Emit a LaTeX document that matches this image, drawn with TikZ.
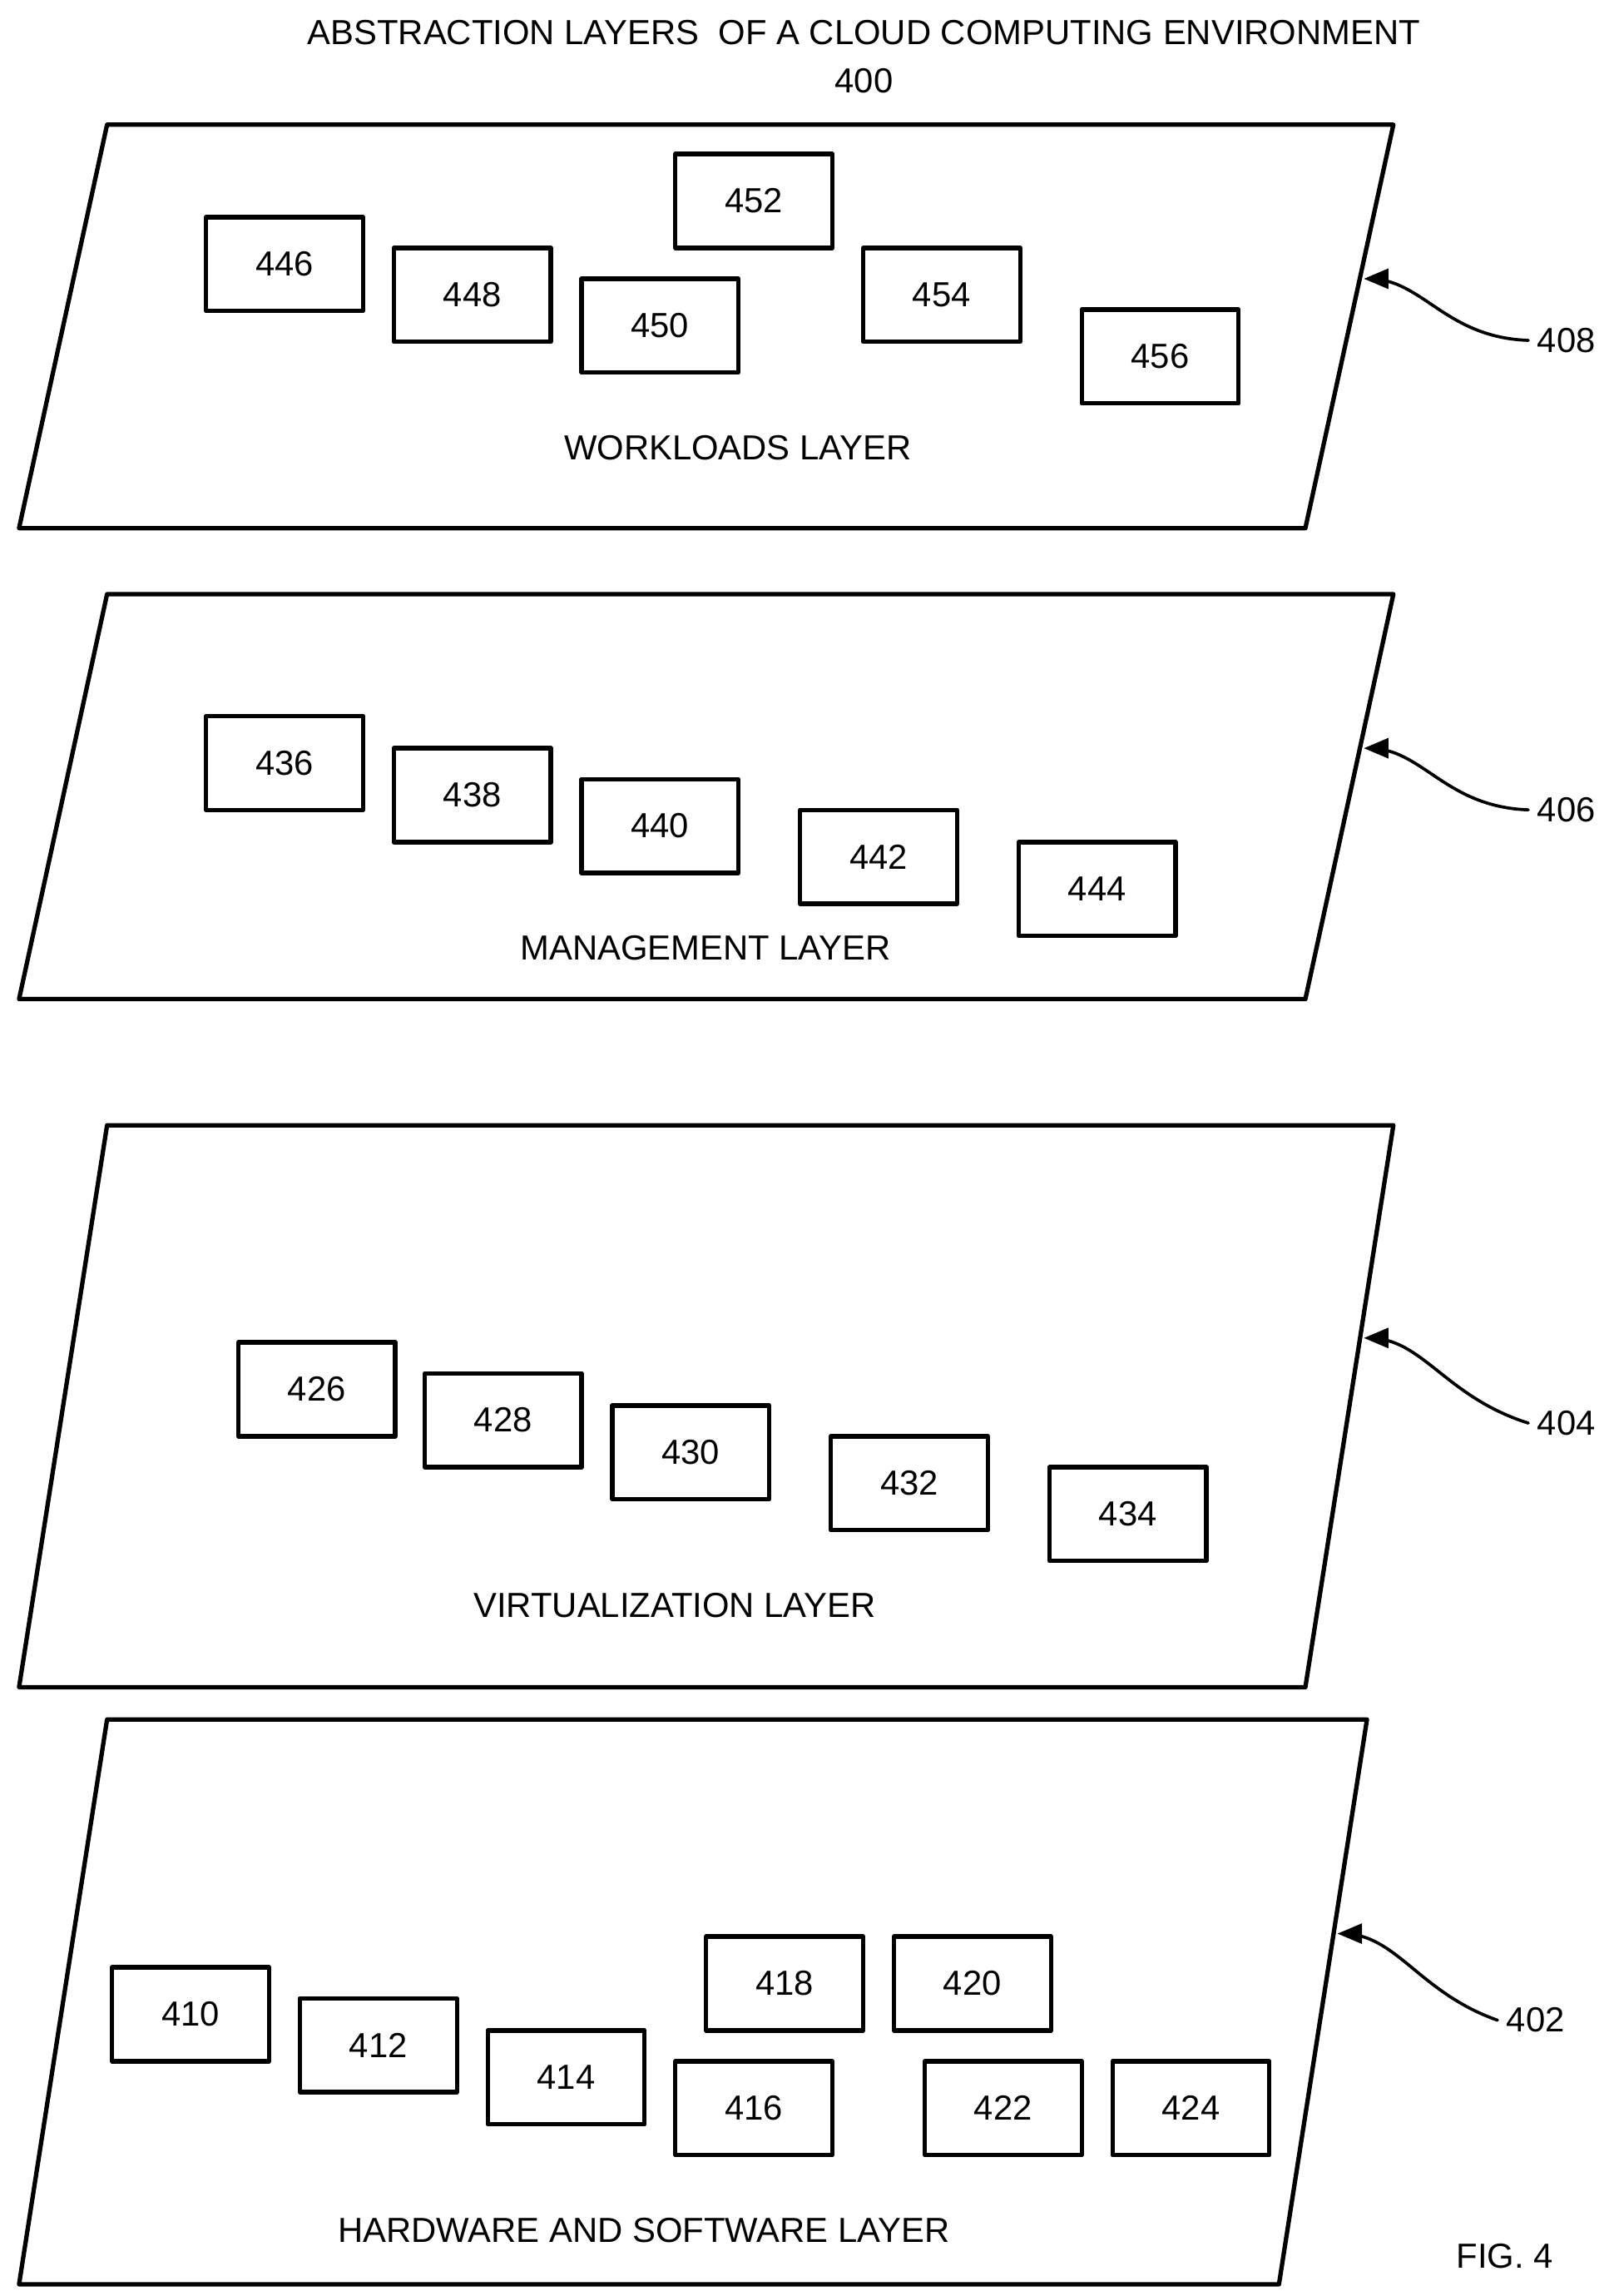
\documentclass[tikz,border=0pt]{standalone}
\usepackage{fontspec}
\setmainfont{Liberation Sans}
\usetikzlibrary{calc}
\usetikzlibrary{arrows}
\begin{document}
\begin{tikzpicture}[line cap=round,line join=round,>=triangle 45,x=0.02cm,y=-0.02cm,
  every node/.style={font=\fontsize{13.5}{16}\selectfont},
  layer/.style={line width=1.7pt},
  unit/.style={draw,line width=1.7pt,minimum width=107*0.02cm,minimum height=64*0.02cm,inner sep=0pt},
  lead/.style={->,line width=1.2pt}]
\useasboundingbox (0,0) rectangle (1100,1565);
\node (title) at (589,22) {ABSTRACTION LAYERS\ \ OF A CLOUD COMPUTING ENVIRONMENT};
\node (t400) at (589,55) {400};
% layers
\draw [layer] (73,85) -- (950,85) -- (890,360) -- (13,360) -- cycle;
\draw [layer] (73,405) -- (950,405) -- (890,681) -- (13,681) -- cycle;
\draw [layer] (73,767) -- (950,767) -- (890,1150) -- (13,1150) -- cycle;
\draw [layer] (73,1172) -- (932,1172) -- (872,1557) -- (13,1557) -- cycle;
\node (wl) at (503,305) {WORKLOADS LAYER};
\node (ml) at (481,646) {MANAGEMENT LAYER};
\node (vl) at (460,1094) {VIRTUALIZATION LAYER};
\node (hl) at (439,1520) {HARDWARE AND SOFTWARE LAYER};
% units
\foreach \n/\x/\y in {446/194/180,448/322/201,450/450/222,452/514/137,454/642/201,456/791/243,
  436/194/520,438/322/542,440/450/563,442/599/584,444/748/606,
  426/216/947,428/343/968,430/471/990,432/620/1011,434/769/1032,
  410/130/1373,412/258/1394,414/386/1416,416/514/1437,418/535/1352,420/663/1352,422/684/1437,424/812/1437}
  \node [unit] (u\n) at (\x,\y) {\n};
% reference numerals
\foreach \n/\tx/\ty/\ex/\ey/\lx in {408/930/190/1035/232/1068,406/930/510/1035/552/1068,
  404/930/912/1035/970/1068,402/912/1318/1015/1377/1047} {
  \coordinate (tip\n) at (\tx,\ty);
  \node [anchor=center] (r\n) at (\lx,\ey) {\n};
  \draw [lead] (r\n.west) .. controls ($(tip\n)+(55,40)$) and ($(tip\n)+(40,0)$) .. (tip\n);
}
\node (fig) at (1026,1538) {FIG. 4};
\end{tikzpicture}
\end{document}
